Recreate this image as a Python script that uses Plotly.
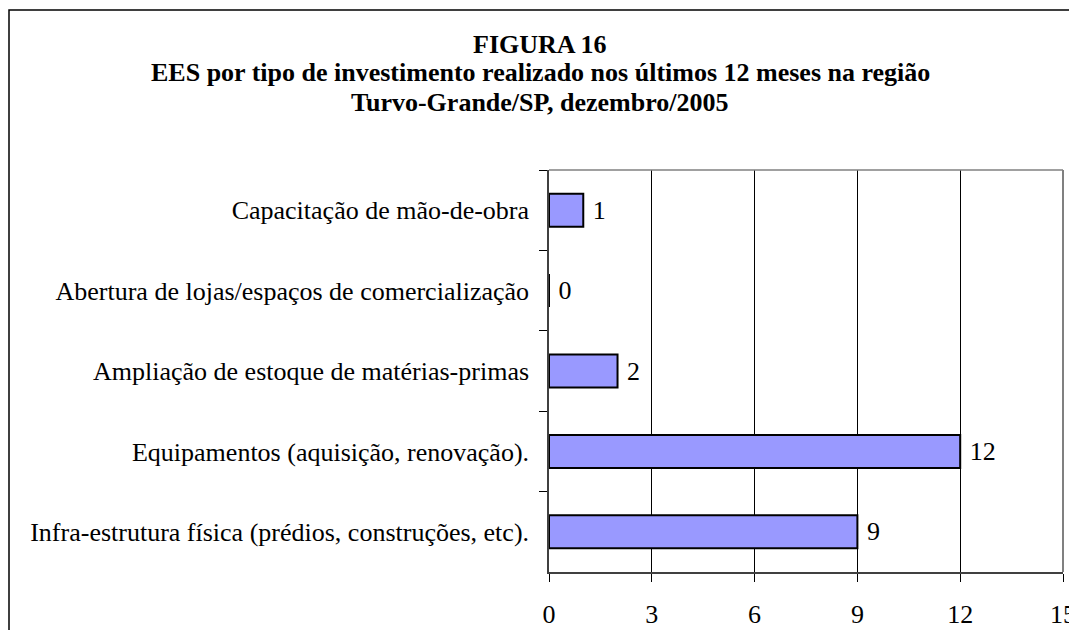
import plotly.graph_objects as go

categorias = [
    "Capacitação de mão-de-obra",
    "Abertura de lojas/espaços de comercialização",
    "Ampliação de estoque de matérias-primas",
    "Equipamentos (aquisição, renovação).",
    "Infra-estrutura física (prédios, construções, etc).",
]
valores = [1, 0, 2, 12, 9]
x_ticks = [0, 3, 6, 9, 12, 15]

titulo_linhas = [
    "FIGURA 16",
    "EES por tipo de investimento realizado nos últimos 12 meses na região",
    "Turvo-Grande/SP, dezembro/2005",
]

FONT = "Liberation Serif, Times New Roman, serif"
FS = 26

W, H = 1069, 630
L, R, T, B = 549, 1063, 170, 572

fig = go.Figure()
fig.add_trace(go.Bar(
    x=valores, y=categorias, orientation="h",
    marker=dict(color="#9999FF", line=dict(color="black", width=2)),
    text=[" " + str(v) for v in valores], textposition="outside",
    textfont=dict(family=FONT, size=FS, color="black"),
    cliponaxis=False,
    width=0.41,
))

annotations = []
for i, line in enumerate(titulo_linhas):
    yc = 44 + 29 * i
    annotations.append(dict(
        text="<b>" + line + "</b>", xref="paper", yref="paper",
        x=(540 - L) / (R - L), y=(B - yc) / (B - T),
        xanchor="center", yanchor="middle", showarrow=False,
        font=dict(family=FONT, size=FS, color="black"),
    ))

fig.update_layout(
    width=W, height=H,
    margin=dict(l=L, r=W - R, t=T, b=H - B, pad=0),
    paper_bgcolor="white", plot_bgcolor="white",
    showlegend=False,
    font=dict(family=FONT, size=FS, color="black"),
    annotations=annotations,
    xaxis=dict(
        range=[0, 15], tickvals=x_ticks, ticktext=[str(t) for t in x_ticks],
        showgrid=True, gridcolor="black", gridwidth=1,
        showline=True, linecolor="#404040", linewidth=1.5,
        ticks="outside", ticklen=8, tickcolor="black", tickwidth=1,
        ticklabelstandoff=10, ticklabeloverflow="allow",
        zeroline=False, automargin=False,
        tickfont=dict(family=FONT, size=FS, color="black"),
    ),
    yaxis=dict(
        autorange="reversed", type="category",
        showline=True, linecolor="#404040", linewidth=1.5,
        ticks="outside", ticklen=8, tickcolor="black", tickson="boundaries",
        ticklabelstandoff=13, showgrid=False, automargin=False,
        tickfont=dict(family=FONT, size=FS, color="black"),
    ),
    shapes=[
        dict(type="line", xref="paper", yref="paper", x0=0, x1=1, y0=1, y1=1,
             line=dict(color="#808080", width=1.5), layer="above"),
        dict(type="line", xref="paper", yref="paper", x0=1, x1=1, y0=0, y1=1,
             line=dict(color="#808080", width=2), layer="above"),
        dict(type="rect", xref="paper", yref="paper",
             x0=(9 - L) / (R - L), x1=1.2, y0=-0.3, y1=(B - 10) / (B - T),
             line=dict(color="black", width=1.5), layer="below"),
    ],
)

fig.write_html("out.html", config={"displayModeBar": False},
               post_script="document.body.style.margin='0';")
